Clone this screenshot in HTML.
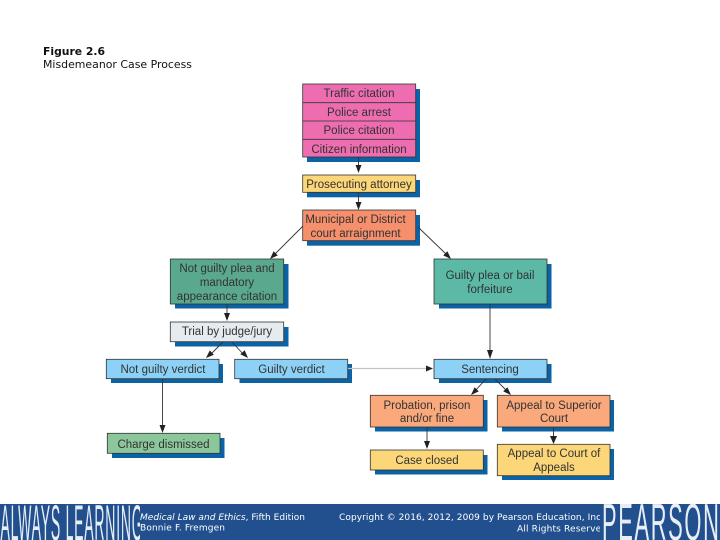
<!DOCTYPE html>
<html>
<head>
<meta charset="utf-8">
<style>
html,body{margin:0;padding:0;background:#fff;width:720px;height:540px;overflow:hidden}
svg{display:block}
.n{font-family:"Liberation Sans",Arial,sans-serif;font-size:11.5px;fill:#333;text-anchor:middle}
.h{font-family:"DejaVu Sans",Verdana,sans-serif;font-size:10.5px;fill:#111}
.f{font-family:"DejaVu Sans",Verdana,sans-serif;font-size:9px;fill:#fff}
.b{font-family:"Liberation Sans",Arial,sans-serif;fill:#e8eef6}
.box{stroke:#333;stroke-width:.8}
.l{stroke:#333;stroke-width:.9;fill:none}
.a{fill:#222}
</style>
</head>
<body>
<svg width="720" height="540" viewBox="0 0 720 540" xmlns="http://www.w3.org/2000/svg">
<defs>
<filter id="s" x="-5%" y="-5%" width="110%" height="110%"><feGaussianBlur stdDeviation="0.3"/></filter>
</defs>
<rect width="720" height="540" fill="#fff"/>

<text class="h" x="43" y="55" font-weight="bold" textLength="62" lengthAdjust="spacingAndGlyphs">Figure 2.6</text>
<text class="h" x="43" y="68" textLength="149" lengthAdjust="spacingAndGlyphs">Misdemeanor Case Process</text>

<!-- shadows -->
<g fill="#0b62a4">
<rect x="307" y="89" width="113" height="73"/>
<rect x="307" y="180" width="113" height="17.3"/>
<rect x="307" y="215" width="113" height="30.7"/>
<rect x="175" y="264" width="113.5" height="44.5"/>
<rect x="439" y="264" width="112.5" height="44.5"/>
<rect x="175" y="327" width="113.5" height="19.5"/>
<rect x="111" y="364" width="112" height="19"/>
<rect x="239.5" y="364" width="112.5" height="19"/>
<rect x="112" y="438" width="112.5" height="20"/>
<rect x="439" y="364" width="112.5" height="19"/>
<rect x="375" y="400" width="112.5" height="31.5"/>
<rect x="502" y="400" width="112" height="31.5"/>
<rect x="375" y="455" width="112.5" height="19.5"/>
<rect x="502" y="449" width="112" height="31"/>
</g>

<!-- connectors -->
<path d="M348 368.500H428" stroke="#c4c4c4" stroke-width="1.300" fill="none"/>
<path class="l" d="M358.500 157V170M358.500 192V205M303 226L274 255M418 227L447 255M227 304V316M223 342L209 356M232 342L245 356M162.500 379V428M490 304V354M486 379L474 392M495 379L508 392M427 427V444M553.500 427V440"/>

<!-- arrowheads -->
<g class="a">
<polygon points="355.500,165 361.500,165 358.500,173"/>
<polygon points="355.500,202 361.500,202 358.500,210"/>
<polygon points="270,259 277.800,255.400 273.600,251.200"/>
<polygon points="451,259 447.400,251.200 443.200,255.400"/>
<polygon points="224,313 230,313 227,321"/>
<polygon points="206,358 213.900,354.800 209.800,350.400"/>
<polygon points="248,358 244.700,350.200 240.300,354.200"/>
<polygon points="159.500,425 165.500,425 162.500,433"/>
<polygon points="487,350 493,350 490,359"/>
<polygon points="426,365.500 433,368.500 426,371.500"/>
<polygon points="471,395 478.800,391.400 474.600,387.200"/>
<polygon points="511,395 507.400,387.200 503.200,391.400"/>
<polygon points="424,441 430,441 427,449"/>
<polygon points="550,436 557,436 553.500,444"/>
</g>

<!-- nodes -->
<rect class="box" x="302.700" y="84" width="113" height="73" fill="#ee6db0"/>
<path class="box" d="M302.700 102.700H415.700M302.700 121H415.700M302.700 139.300H415.700" fill="none"/>
<rect class="box" x="302.700" y="175" width="113" height="17.300" fill="#fcd779"/>
<rect class="box" x="302.700" y="210" width="113" height="30.700" fill="#f58f6c"/>
<rect class="box" x="170.300" y="259" width="113.400" height="45" fill="#5aa98f"/>
<rect class="box" x="434" y="259" width="113" height="45" fill="#5cb9a5"/>
<rect class="box" x="170.300" y="322" width="113.400" height="19.700" fill="#e6ebef"/>
<rect class="box" x="106.300" y="359.300" width="112.700" height="19.400" fill="#8ed1f7"/>
<rect class="box" x="234.700" y="359.300" width="113" height="19.400" fill="#8ed1f7"/>
<rect class="box" x="107.300" y="433.300" width="112.700" height="20" fill="#8cc79c"/>
<rect class="box" x="434" y="359.300" width="113" height="19.400" fill="#8ed1f7"/>
<rect class="box" x="370.300" y="395.300" width="113" height="31.700" fill="#f9a97c"/>
<rect class="box" x="497.300" y="395.300" width="112.700" height="31.700" fill="#f9a97c"/>
<rect class="box" x="370.300" y="450" width="113" height="20" fill="#fcd779"/>
<rect class="box" x="497.300" y="444.300" width="112.700" height="31.400" fill="#fcd779"/>

<!-- labels -->
<g filter="url(#s)">
<text class="n" x="359" y="97">Traffic citation</text>
<text class="n" x="359" y="116">Police arrest</text>
<text class="n" x="359" y="134">Police citation</text>
<text class="n" x="359" y="153">Citizen information</text>
<text class="n" x="359" y="188">Prosecuting attorney</text>
<text class="n" x="355.500" y="223">Municipal or District</text>
<text class="n" x="355.500" y="237">court arraignment</text>
<text class="n" x="227" y="272">Not guilty plea and</text>
<text class="n" x="227" y="286">mandatory</text>
<text class="n" x="227" y="300">appearance citation</text>
<text class="n" x="490" y="279">Guilty plea or bail</text>
<text class="n" x="490" y="293">forfeiture</text>
<text class="n" x="227" y="335">Trial by judge/jury</text>
<text class="n" x="163" y="373">Not guilty verdict</text>
<text class="n" x="291.500" y="373">Guilty verdict</text>
<text class="n" x="490" y="373">Sentencing</text>
<text class="n" x="163.500" y="448">Charge dismissed</text>
<text class="n" x="427" y="409">Probation, prison</text>
<text class="n" x="427" y="422">and/or fine</text>
<text class="n" x="554" y="409">Appeal to Superior</text>
<text class="n" x="554" y="422">Court</text>
<text class="n" x="427" y="464">Case closed</text>
<text class="n" x="554" y="457">Appeal to Court of</text>
<text class="n" x="554" y="471">Appeals</text>
</g>

<!-- footer -->
<rect x="0" y="504" width="720" height="36" fill="#22508f"/>
<text class="f" x="140" y="520" textLength="165" lengthAdjust="spacing"><tspan font-style="italic">Medical Law and Ethics</tspan>, Fifth Edition</text>
<text class="f" x="140" y="530.500" textLength="85" lengthAdjust="spacing">Bonnie F. Fremgen</text>
<text class="f" x="339" y="520" textLength="265" lengthAdjust="spacing">Copyright © 2016, 2012, 2009 by Pearson Education, Inc.</text>
<text class="f" x="517" y="531.500" textLength="90" lengthAdjust="spacing">All Rights Reserved</text>
<rect x="600" y="504" width="120" height="36" fill="#22508f"/>
<svg x="0" y="504" width="140" height="36" viewBox="0 504 140 36" overflow="hidden">
<text class="b" transform="translate(0.500,540) scale(.28,1)" font-size="50" style="letter-spacing:2.8px">ALWAYS LEARNING</text>
</svg>
<svg x="600" y="502" width="120" height="38" viewBox="600 502 120 38" overflow="hidden">
<text class="b" transform="translate(602,540) scale(.42,1)" font-size="52" style="letter-spacing:4px">PEARSON</text>
</svg>
</svg>
</body>
</html>
